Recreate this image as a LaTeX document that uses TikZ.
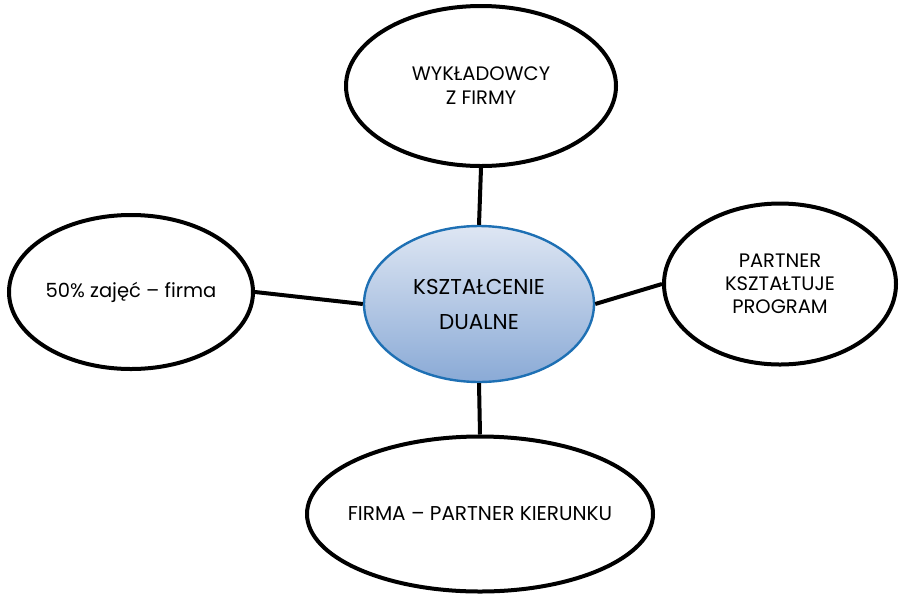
\documentclass[tikz,border=0pt]{standalone}
\usepackage{fontspec}
\setmainfont{Poppins}
\usetikzlibrary{shapes.geometric}
\definecolor{rimblue}{RGB}{30,112,180}
\definecolor{topblue}{RGB}{222,230,243}
\definecolor{botblue}{RGB}{138,170,214}
\tikzset{
  bubble/.style={
    draw, ellipse, inner ysep=0mm, inner xsep=-30pt, line width=4pt, align=center,
    font=\fontsize{19.5}{24}\selectfont
  },
  hub/.style={
    draw=rimblue, ellipse, inner sep=0mm, line width=2.4pt, align=center,
    top color=topblue, bottom color=botblue,
    font=\fontsize{21.5}{35}\selectfont
  },
  spoke/.style={line width=4pt}
}
\begin{document}
\begin{tikzpicture}[x=1pt, y=-1pt]
 \useasboundingbox (0,0) rectangle (901,595);
 \node[hub, minimum width=230pt, minimum height=156pt] (ksz) at (479, 304) {KSZTAŁCENIE\\DUALNE};
 \node[bubble, minimum width=270pt, minimum height=160pt] (wyk) at (481, 86) {WYKŁADOWCY\\Z FIRMY};
 \node[bubble, minimum width=244pt, minimum height=154pt] (zaj) at (131, 292) {50\% zajęć – firma};
 \node[bubble, minimum width=232pt, minimum height=161pt] (prog) at (780, 284) {PARTNER\\[-1pt]KSZTAŁTUJE\\[-1pt]PROGRAM};
 \node[bubble, minimum width=346pt, minimum height=155pt] (firma) at (480, 514) {\fontsize{20}{24}\selectfont FIRMA – PARTNER KIERUNKU};

 \draw[spoke] (wyk.south) -- (ksz.north);
 \draw[spoke] (zaj.east) -- (ksz.west);
 \draw[spoke] (ksz.east) -- (prog.west);
 \draw[spoke] (ksz.south) -- (firma.north);

\end{tikzpicture}
\end{document}
